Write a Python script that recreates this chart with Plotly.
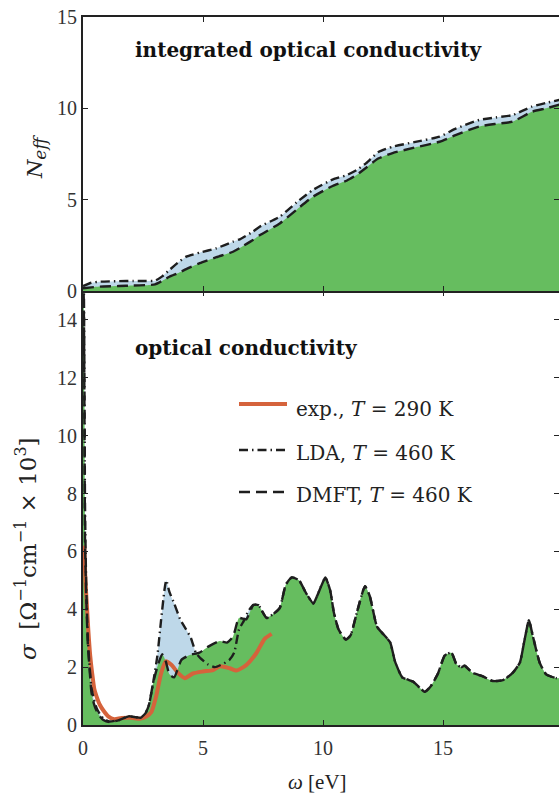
import plotly.graph_objects as go

# ---------------- data ----------------
# Top panel: integrated optical conductivity N_eff(omega)
omega_n = [0, 0.35, 0.7, 1.5, 2.1, 2.6, 3.0, 3.3, 3.6, 4.0, 4.3, 4.86, 5.56, 6.25, 6.53,
           7.08, 7.36, 8.2, 8.9, 9.58, 10.4, 11.0, 11.4, 11.8, 12.3, 12.9, 13.8, 14.86,
           15.55, 16.5, 17.2, 17.9, 18.7, 19.3, 20.0]
neff_lda = [0.27, 0.45, 0.51, 0.54, 0.55, 0.55, 0.56, 0.8, 1.15, 1.6, 1.88, 2.1, 2.34, 2.7, 2.83,
            3.25, 3.52, 4.07, 4.85, 5.53, 6.1, 6.35, 6.62, 7.0, 7.6, 7.9, 8.15, 8.45,
            8.9, 9.36, 9.5, 9.63, 10.09, 10.3, 10.5]
neff_dmft = [0.15, 0.2, 0.24, 0.27, 0.3, 0.32, 0.36, 0.55, 0.78, 1.0, 1.2, 1.52, 1.85, 2.15, 2.35,
             2.79, 3.05, 3.7, 4.45, 5.16, 5.75, 6.05, 6.35, 6.75, 7.25, 7.55, 7.85, 8.17,
             8.55, 9.0, 9.15, 9.27, 9.81, 10.0, 10.25]

# Bottom panel: optical conductivity sigma(omega) [1e3 Ohm^-1 cm^-1]
omega_dmft = [0.0, 0.03, 0.06, 0.085, 0.13, 0.2, 0.26, 0.35, 0.45, 0.56, 0.7, 0.85, 1.1, 1.5,
              1.9, 2.2, 2.4, 2.6, 2.75, 2.92, 3.13, 3.3, 3.45, 3.6, 3.8, 4.1, 4.45, 4.85,
              5.2, 5.7, 6.0, 6.25, 6.5, 6.8, 7.1, 7.3, 7.65, 7.95, 8.2, 8.45, 8.7, 9.0,
              9.3, 9.6, 9.75, 9.9, 10.1, 10.3, 10.45, 10.65, 10.95, 11.15, 11.4, 11.75,
              11.95, 12.25, 12.5, 12.8, 13.0, 13.3, 13.75, 13.95, 14.24, 14.5, 14.8, 15.07,
              15.35, 15.56, 15.76, 15.9, 16.24, 16.66, 17.07, 17.5, 17.9, 18.2, 18.4,
              18.58, 18.75, 19.03, 19.3, 19.72, 20.0]
sigma_dmft = [15.5, 14.8, 11.0, 6.3, 4.6, 2.8, 2.1, 1.15, 0.75, 0.5, 0.3, 0.17, 0.1, 0.17,
              0.3, 0.27, 0.25, 0.4, 0.7, 1.45, 2.1, 2.45, 2.2, 1.75, 1.65, 2.25, 2.42, 2.5,
              2.7, 2.9, 2.85, 3.05, 3.7, 3.65, 4.15, 4.15, 3.7, 3.85, 4.05, 4.85, 5.1, 5.0,
              4.55, 4.2, 4.45, 4.75, 5.1, 4.65, 3.9, 3.3, 2.95, 3.1, 3.85, 4.8,
              4.45, 3.4, 3.15, 2.85, 2.2, 1.65, 1.5, 1.35, 1.15, 1.35, 1.8, 2.4,
              2.5, 2.1, 2.0, 2.05, 1.8, 1.68, 1.52, 1.55, 1.8, 2.15, 2.95,
              3.62, 3.05, 2.15, 1.75, 1.62, 1.62]

omega_lda = [0.0, 0.03, 0.06, 0.085, 0.13, 0.2, 0.26, 0.35, 0.45, 0.56, 0.7, 0.85, 1.1, 1.5,
             1.9, 2.2, 2.4, 2.6, 2.75, 2.92, 3.1, 3.25, 3.4, 3.47, 3.6, 3.8, 4.05, 4.3, 4.5,
             4.7, 4.9, 5.2, 5.5, 5.8, 6.1, 6.3, 6.5, 6.7, 6.9, 7.1, 7.3, 7.65, 7.95, 8.2,
             8.45, 8.7, 9.0, 9.3, 9.6, 9.75, 9.9, 10.1, 10.3, 10.45, 10.65, 10.95, 11.15,
             11.4, 11.75, 11.95, 12.25, 12.5, 12.8, 13.0, 13.3, 13.75, 13.95, 14.24, 14.5,
             14.8, 15.07, 15.35, 15.56, 15.76, 15.9, 16.24, 16.66, 17.07, 17.5, 17.9, 18.2,
             18.4, 18.58, 18.75, 19.03, 19.3, 19.72, 20.0]
sigma_lda = [16.0, 15.5, 12.0, 7.5, 5.0, 3.0, 2.2, 1.3, 0.9, 0.6, 0.38, 0.22, 0.12, 0.17,
             0.3, 0.27, 0.25, 0.4, 0.7, 1.45, 2.4, 3.6, 4.7, 5.0, 4.6, 4.2, 3.65, 3.3, 3.0,
             2.5, 2.3, 2.1, 2.0, 2.1, 2.25, 2.5, 3.3, 3.6, 3.95, 4.15, 4.15, 3.7, 3.85, 4.05,
             4.85, 5.1, 5.0, 4.55, 4.2, 4.45, 4.75, 5.1, 4.65, 3.9, 3.3, 2.95, 3.1,
             3.85, 4.8, 4.45, 3.4, 3.15, 2.85, 2.2, 1.65, 1.5, 1.35, 1.15, 1.35,
             1.8, 2.4, 2.5, 2.1, 2.0, 2.05, 1.8, 1.68, 1.52, 1.55, 1.8, 2.15,
             2.95, 3.62, 3.05, 2.15, 1.75, 1.62, 1.62]

omega_exp = [0.05, 0.1, 0.15, 0.22, 0.3, 0.38, 0.47, 0.56, 0.7, 0.85, 1.05, 1.3, 1.6, 2.0,
             2.4, 2.65, 2.85, 3.05, 3.26, 3.45, 3.68, 3.96, 4.24, 4.58, 5.0, 5.42, 5.7,
             6.11, 6.39, 6.8, 7.22, 7.57, 7.86]
sigma_exp = [6.2, 5.0, 4.3, 3.3, 2.4, 1.8, 1.25, 1.0, 0.7, 0.5, 0.3, 0.2, 0.24, 0.25,
             0.22, 0.3, 0.45, 1.0, 1.8, 2.2, 2.08, 1.8, 1.62, 1.78, 1.85, 1.9, 2.03,
             1.96, 1.88, 2.07, 2.48, 2.98, 3.15]

legend_labels = ["exp., <i>T</i> = 290 K", "LDA, <i>T</i> = 460 K",
                 "DMFT, <i>T</i> = 460 K"]
x_ticks = [0, 5, 10, 15, 20]
neff_ticks = [0, 5, 10, 15]
sigma_ticks = [0, 2, 4, 6, 8, 10, 12, 14]

# ---------------- style ----------------
GREEN = "#66BD5F"
BLUE = "#BED8E9"
ORANGE = "#D5633C"
BLACK = "#1E1E1E"
AXC = "#222222"
FONT = "Liberation Serif"
WFONT = "DejaVu Serif"
LDA_DASH = "9px,4px,1.5px,4px"
DMFT_DASH = "11px,6px"
SM = 0.5

fig = go.Figure()

# top panel
fig.add_trace(go.Scatter(x=omega_n, y=neff_lda, xaxis="x2", yaxis="y2", mode="lines",
                         line=dict(width=0, color=BLUE, shape="spline", smoothing=SM),
                         fill="tozeroy", fillcolor=BLUE, hoverinfo="skip", showlegend=False))
fig.add_trace(go.Scatter(x=omega_n, y=neff_dmft, xaxis="x2", yaxis="y2", mode="lines",
                         line=dict(width=0, color=GREEN, shape="spline", smoothing=SM),
                         fill="tozeroy", fillcolor=GREEN, hoverinfo="skip", showlegend=False))
fig.add_trace(go.Scatter(x=omega_n, y=neff_lda, xaxis="x2", yaxis="y2", mode="lines",
                         line=dict(width=2.4, color=BLACK, dash=LDA_DASH, shape="spline", smoothing=SM),
                         showlegend=False))
fig.add_trace(go.Scatter(x=omega_n, y=neff_dmft, xaxis="x2", yaxis="y2", mode="lines",
                         line=dict(width=2.4, color=BLACK, dash=DMFT_DASH, shape="spline", smoothing=SM),
                         showlegend=False))

# bottom panel
fig.add_trace(go.Scatter(x=omega_lda, y=sigma_lda, xaxis="x", yaxis="y", mode="lines",
                         line=dict(width=0, color=BLUE, shape="spline", smoothing=SM),
                         fill="tozeroy", fillcolor=BLUE, hoverinfo="skip", showlegend=False))
fig.add_trace(go.Scatter(x=omega_dmft, y=sigma_dmft, xaxis="x", yaxis="y", mode="lines",
                         line=dict(width=0, color=GREEN, shape="spline", smoothing=SM),
                         fill="tozeroy", fillcolor=GREEN, hoverinfo="skip", showlegend=False))
fig.add_trace(go.Scatter(x=omega_exp, y=sigma_exp, xaxis="x", yaxis="y", mode="lines",
                         line=dict(width=4, color=ORANGE, shape="spline", smoothing=0.6),
                         showlegend=False))
fig.add_trace(go.Scatter(x=omega_lda, y=sigma_lda, xaxis="x", yaxis="y", mode="lines",
                         line=dict(width=2.4, color=BLACK, dash=LDA_DASH, shape="spline", smoothing=SM),
                         showlegend=False))
fig.add_trace(go.Scatter(x=omega_dmft, y=sigma_dmft, xaxis="x", yaxis="y", mode="lines",
                         line=dict(width=2.4, color=BLACK, dash=DMFT_DASH, shape="spline", smoothing=SM),
                         showlegend=False))

W, H = 559, 794
ML, MR, MT, MB = 83, 0, 17, 69
split = 434 / (H - MT - MB)
XMAX = (W - ML) / 24.0

tickfont = dict(family=FONT, size=20, color="#333333")
common_x = dict(range=[0, XMAX], tickvals=x_ticks, ticks="inside", ticklen=5, tickwidth=1.2,
                tickcolor=AXC, showline=True, linewidth=2, linecolor=AXC, mirror="ticks",
                showgrid=False, zeroline=False, tickfont=tickfont)
common_y = dict(range=[0, 15], ticks="inside", ticklen=5, tickwidth=1.2, tickcolor=AXC,
                showline=True, linewidth=2, linecolor=AXC, mirror=False,
                showgrid=False, zeroline=False, tickfont=tickfont)

fig.update_layout(
    width=W, height=H, margin=dict(l=ML, r=MR, t=MT, b=MB),
    plot_bgcolor="white", paper_bgcolor="white",
    xaxis=dict(**common_x, anchor="y", ticklabelstandoff=4),
    xaxis2=dict(**common_x, anchor="y2", matches="x", showticklabels=False),
    yaxis=dict(**common_y, domain=[0, split], tickvals=sigma_ticks, anchor="x"),
    yaxis2=dict(**common_y, domain=[split, 1], tickvals=neff_ticks, anchor="x2"),
    yaxis3=dict(range=[0, 15], tickvals=sigma_ticks, overlaying="y", side="right", anchor="x",
                ticks="inside", ticklen=5, tickwidth=1.2, tickcolor=AXC, showticklabels=False,
                showline=False, showgrid=False, zeroline=False),
    yaxis4=dict(range=[0, 15], tickvals=neff_ticks, overlaying="y2", side="right", anchor="x2",
                ticks="inside", ticklen=5, tickwidth=1.2, tickcolor=AXC, showticklabels=False,
                showline=False, showgrid=False, zeroline=False),
    showlegend=False,
)

# dummy traces so the right-hand tick axes render
fig.add_trace(go.Scatter(x=[None], y=[None], xaxis="x", yaxis="y3", showlegend=False))
fig.add_trace(go.Scatter(x=[None], y=[None], xaxis="x2", yaxis="y4", showlegend=False))


def px_x(p):
    return (p - ML) / (W - ML - MR)


def px_y(p):
    return (H - MB - p) / (H - MT - MB)


NB = "\u00a0"
ann = []
ann.append(dict(text="<b>integrated optical conductivity</b>", x=px_x(133), y=px_y(50),
                xanchor="left", yanchor="middle", font=dict(family=WFONT, size=20, color="#111")))
ann.append(dict(text="<b>optical conductivity</b>", x=px_x(133), y=px_y(348),
                xanchor="left", yanchor="middle", font=dict(family=WFONT, size=20, color="#111")))
ann.append(dict(text="<i>N</i><sub><span style='font-size:17px'><i>eff</i></span></sub>",
                x=px_x(37), y=px_y(157), textangle=-90,
                xanchor="center", yanchor="middle", font=dict(family=WFONT, size=21, color="#222")))
ann.append(dict(text="<i>σ</i>" + NB + NB + "[Ω<sup><span style='font-size:16px'>−1</span></sup>cm"
                     "<sup><span style='font-size:16px'>−1</span></sup>" + NB + "×" + NB + "10"
                     "<sup><span style='font-size:16px'>3</span></sup>]",
                x=px_x(26), y=px_y(549), textangle=-90, xanchor="center", yanchor="middle",
                font=dict(family=WFONT, size=23, color="#222")))
ann.append(dict(text="<i>ω</i> [eV]", x=px_x(317), y=px_y(782), xanchor="center",
                yanchor="middle", font=dict(family=FONT, size=21, color="#222")))

rows_line = [404, 450, 492]
rows_text = [409, 453, 495]
styles = [dict(color=ORANGE, width=4), dict(color=BLACK, width=2.6, dash=LDA_DASH),
          dict(color=BLACK, width=2.6, dash=DMFT_DASH)]
shapes = []
for lab, yl, yt, st in zip(legend_labels, rows_line, rows_text, styles):
    shapes.append(dict(type="line", xref="paper", yref="paper", x0=px_x(239), x1=px_x(287),
                       y0=px_y(yl), y1=px_y(yl), line=st))
    ann.append(dict(text=lab, x=px_x(294), y=px_y(yt), xanchor="left", yanchor="middle",
                    font=dict(family=WFONT, size=20, color="#222")))

for a in ann:
    a.update(xref="paper", yref="paper", showarrow=False)
fig.update_layout(annotations=ann, shapes=shapes)

fig.write_html("out.html")
